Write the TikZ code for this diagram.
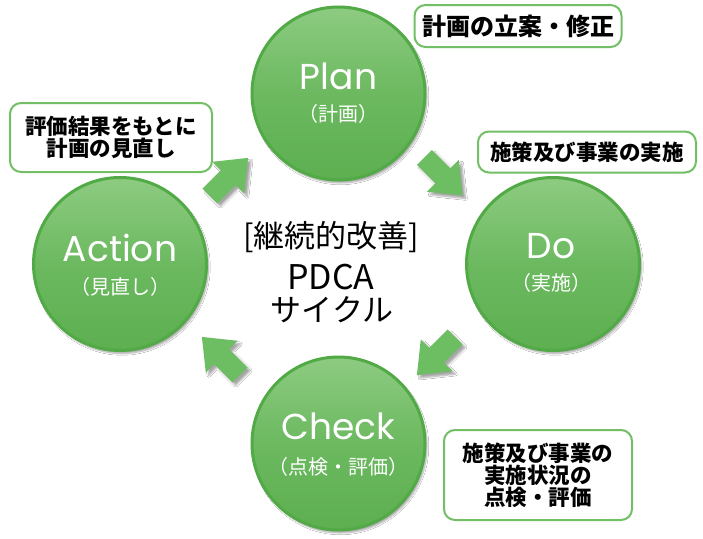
\documentclass[tikz,border=0pt]{standalone}
\usepackage{fontspec}
\newfontfamily\jp{Noto Sans CJK JP}
\newfontfamily\lat{Poppins}
\usetikzlibrary{calc,shadows.blur}
\definecolor{gborder}{HTML}{52AA47}
\definecolor{gtop}{HTML}{8DCB81}
\definecolor{gmid}{HTML}{6CB960}
\definecolor{gbot}{HTML}{5DAF50}
\definecolor{garrow}{HTML}{6DBD62}
\definecolor{gbox}{HTML}{72BF66}
\newcommand\blockarrow[2]{%
  \fill[arrowst] ($(#1)+(#2:-27)+(#2+90:10.5)$) -- ($(#1)+(#2:-1)+(#2+90:10.5)$) -- ($(#1)+(#2:-1)+(#2+90:22.5)$) -- ($(#1)+(#2:27)$) -- ($(#1)+(#2:-1)+(#2-90:22.5)$) -- ($(#1)+(#2:-1)+(#2-90:10.5)$) -- ($(#1)+(#2:-27)+(#2-90:10.5)$) -- cycle;}
\begin{document}
\begin{tikzpicture}[x=1pt,y=-1pt,
  phase/.style={circle, minimum size=173pt, inner sep=0pt, draw=gborder, line width=3pt,
    top color=gtop, bottom color=gbot, middle color=gmid,
    blur shadow={shadow xshift=2pt, shadow yshift=-3pt, shadow blur steps=6, shadow opacity=35}},
  big/.style={text=white, font=\lat\fontsize{36}{36}\selectfont, inner sep=0pt},
  small/.style={text=white, font=\jp\fontsize{20}{20}\selectfont, inner sep=0pt},
  note/.style={draw=gbox, line width=2pt, fill=white, rounded corners=11pt, align=center,
    font=\jp\bfseries\fontsize{21.5}{22}\selectfont, inner sep=0pt},
  ctext/.style={font=\jp\fontsize{31}{31}\selectfont, inner sep=0pt},
  arrowst/.style={garrow, blur shadow={shadow xshift=3pt, shadow yshift=-3pt, shadow blur steps=6, shadow opacity=35}}
]
\useasboundingbox[fill=white] (0,0) rectangle (703,538);
% phases
\node[phase] (plan) at (338.5,93.5) {};
\node[phase] (act) at (120,264) {};
\node[phase] (do) at (553,264) {};
\node[phase] (chk) at (338.5,443.5) {};
\node[big] (planL) at ($(plan)+(0,-17)$) {Plan};
\node[small] (planS) at ($(plan)+(0,20)$) {（計画）};
\node[big] (actL) at ($(act)+(0,-16)$) {Action};
\node[small] (actS) at ($(act)+(0,23)$) {（見直し）};
\node[big] (doL) at ($(do)+(-2,-18)$) {Do};
\node[small] (doS) at ($(do)+(-2,19)$) {（実施）};
\node[big] (chkL) at ($(chk)+(0,-17)$) {Check};
\node[small] (chkS) at ($(chk)+(0,23)$) {（点検・評価）};
% arrows
\coordinate (a1) at (443.5,176.5);
\coordinate (a2) at (436,356);
\coordinate (a3) at (221,356);
\coordinate (a4) at (229,177);
\blockarrow{a1}{45}
\blockarrow{a2}{135}
\blockarrow{a3}{225}
\blockarrow{a4}{315}
% centre text
\node[ctext] (t1) at (331,237) {[継続的改善]};
\node[ctext, font=\jp\fontsize{34}{34}\selectfont] (t2) at (331,277) {PDCA};
\node[ctext] (t3) at (332,310) {サイクル};
% notes
\node[note, minimum width=207pt, minimum height=42pt, font=\jp\bfseries\fontsize{24}{24}\selectfont] (n1) at (518,26) {計画の立案・修正};
\node[note, minimum width=218pt, minimum height=41pt] (n2) at (587,152) {施策及び事業の実施};
\node[note, minimum width=202pt, minimum height=69pt] (n3) at (111,137.5) {評価結果をもとに\\計画の見直し};
\node[note, minimum width=188pt, minimum height=90pt] (n4) at (538,475) {施策及び事業の\\実施状況の\\点検・評価};
\end{tikzpicture}
\end{document}
